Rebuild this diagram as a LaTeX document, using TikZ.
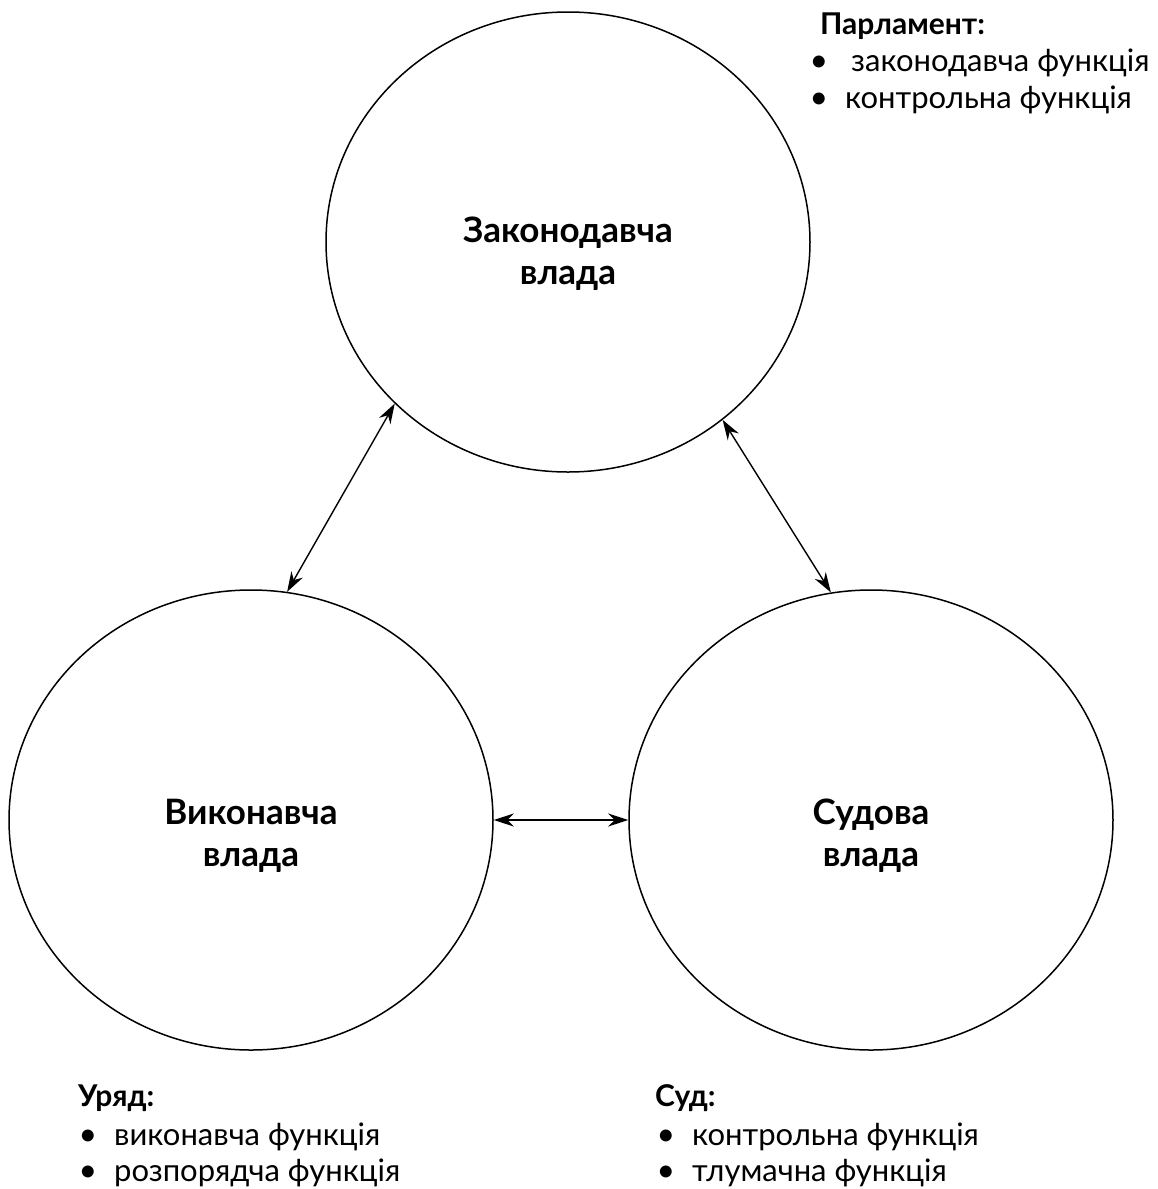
\documentclass[tikz,border=0pt]{standalone}
\usepackage{fontspec}
\setmainfont{Lato}
\usetikzlibrary{shapes.geometric,arrows.meta}

\tikzset{
  branch/.style={draw,line width=1.5pt,ellipse,minimum width=484pt,minimum height=460pt},
  title/.style={align=center,font=\fontsize{35}{42}\selectfont\bfseries},
  link/.style={{Stealth[length=20pt,width=13pt]}-{Stealth[length=20pt,width=13pt]},line width=1.4pt},
  head/.style={anchor=base west,inner sep=1pt,font=\fontsize{30}{36}\selectfont\bfseries},
  item/.style={anchor=base west,inner sep=1pt,font=\fontsize{31}{36}\selectfont},
  dot/.style={anchor=base,inner sep=0pt,font=\fontsize{32}{36}\selectfont}
}

\begin{document}
\begin{tikzpicture}[x=1pt,y=-1pt]
		
		% Frame
		\useasboundingbox (0,0) rectangle (1157,1189);
		
		% Three branches
		\node[branch] (zak) at (568,242) {};
		\node[branch] (vyk) at (251,820) {};
		\node[branch] (sud) at (871,820) {};
		\node[title] (zakt) at (568,254) {Законодавча\\влада};
		\node[title] (vykt) at (251,836) {Виконавча\\влада};
		\node[title] (sudt) at (871,836) {Судова\\влада};
		
		% Arrows between branches
		\draw[link] (zak.223.5) -- (vyk.81.8);
		\draw[link] (zak.311.8) -- (sud.100.6);
		\draw[link] (vyk.0) -- (sud.180);
		
		% Parliament
		\node[head] (parl) at (819,34) {Парламент:};
		\node[dot] (parlb1) at (819,71) {•};
		\node[item] (parl1) at (850,71) {законодавча функція};
		\node[dot] (parlb2) at (819,108) {•};
		\node[item] (parl2) at (844,108) {контрольна функція};
		
		% Government
		\node[head] (uriad) at (77,1106) {Уряд:};
		\node[dot] (uriadb1) at (88,1145) {•};
		\node[item] (uriad1) at (113,1145) {виконавча функція};
		\node[dot] (uriadb2) at (88,1181) {•};
		\node[item] (uriad2) at (113,1181) {розпорядча функція};
		
		% Court
		\node[head] (sudh) at (654,1106) {Суд:};
		\node[dot] (sudb1) at (666,1145) {•};
		\node[item] (sud1) at (691,1145) {контрольна функція};
		\node[dot] (sudb2) at (666,1181) {•};
		\node[item] (sud2) at (691,1181) {тлумачна функція};
		
	\end{tikzpicture}
\end{document}
